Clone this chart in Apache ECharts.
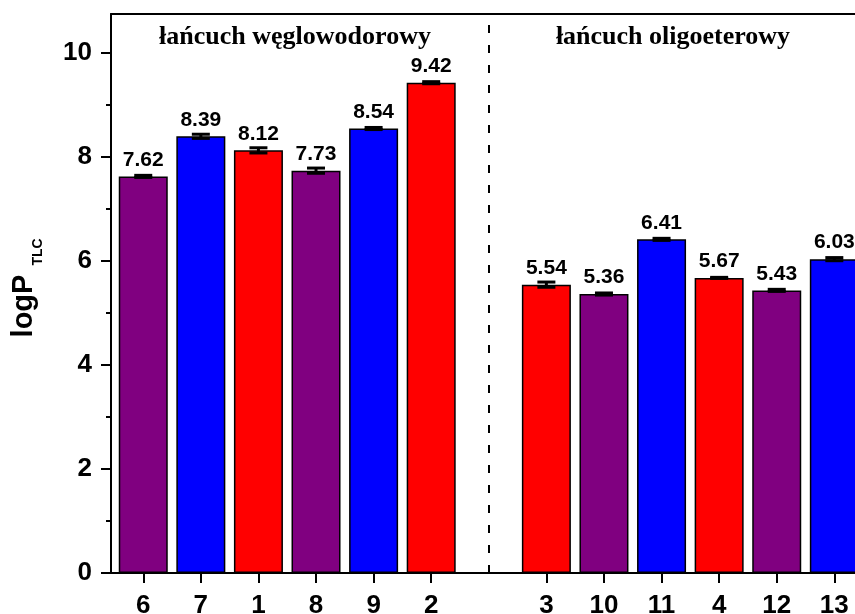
<!DOCTYPE html>
<html>
<head>
<meta charset="utf-8">
<script src="https://cdn.jsdelivr.net/npm/echarts@6/dist/echarts.min.js"></script>
<style>html,body{margin:0;padding:0;background:#fff}#c{width:855px;height:614px}</style>
</head>
<body>
<div id="c"></div>
<script>
// ---- data ----
const categories = ['6', '7', '1', '8', '9', '2', '', '3', '10', '11', '4', '12', '13'];
const logP =       [7.62, 8.39, 8.12, 7.73, 8.54, 9.42, null, 5.54, 5.36, 6.41, 5.67, 5.43, 6.03];
const logPErr =    [0.02, 0.04, 0.05, 0.05, 0.02, 0.02, null, 0.05, 0.02, 0.02, 0.01, 0.02, 0.03];
const colorGroup = ['P', 'B', 'R', 'P', 'B', 'R', '', 'R', 'P', 'B', 'R', 'P', 'B'];
const yTicks = [0, 2, 4, 6, 8, 10];
const yMinorTicks = [1, 3, 5, 7, 9];
const groupTitles = ['łańcuch węglowodorowy', 'łańcuch oligoeterowy'];
const dividerIndex = 6;

const palette = { P: '#800080', B: '#0000FF', R: '#FF0000' };
const xTickValues = categories.map((c, i) => i).filter(i => categories[i] !== '');

const barData = [];
const errData = [];
categories.forEach((c, i) => {
  if (logP[i] == null) return;
  barData.push({ value: [i, logP[i]], itemStyle: { color: palette[colorGroup[i]] } });
  errData.push([i, logP[i], logPErr[i]]);
});

const chart = echarts.init(document.getElementById('c'));
const axisFont = { fontFamily: 'Liberation Sans, Arial, sans-serif', fontWeight: 'bold', fontSize: 26, color: '#000' };

chart.setOption({
  animation: false,
  backgroundColor: '#fff',
  grid: { left: 111, right: -11, top: 14, bottom: 41, containLabel: false, outerBoundsMode: 'none' },
  xAxis: [{
    type: 'value', min: -0.56, max: 12.55, position: 'bottom',
    splitLine: { show: false },
    axisLine: { show: true, onZero: false, lineStyle: { color: '#000', width: 2 } },
    axisTick: { show: true, customValues: xTickValues, length: 10, lineStyle: { color: '#000', width: 2 } },
    axisLabel: Object.assign({ customValues: xTickValues, margin: 20,
      formatter: v => categories[Math.round(v)] }, axisFont)
  }, {
    type: 'value', min: -0.56, max: 12.55, position: 'top',
    splitLine: { show: false },
    axisLine: { show: true, onZero: false, lineStyle: { color: '#000', width: 2 } },
    axisTick: { show: false }, axisLabel: { show: false }
  }],
  yAxis: [{
    type: 'value', min: 0, max: 10.74, interval: 2, position: 'left',
    splitLine: { show: false },
    axisLine: { show: true, onZero: false, lineStyle: { color: '#000', width: 2 } },
    axisTick: { show: true, customValues: yTicks, length: 10, lineStyle: { color: '#000', width: 2 } },
    axisLabel: Object.assign({ customValues: yTicks, margin: 19 }, axisFont)
  }, {
    type: 'value', min: 0, max: 10.74, position: 'left',
    splitLine: { show: false },
    axisLine: { show: false, onZero: false },
    axisTick: { show: true, customValues: yMinorTicks, length: 5, lineStyle: { color: '#000', width: 2 } },
    axisLabel: { show: false }
  }],
  series: [{
    type: 'bar',
    xAxisIndex: 0, yAxisIndex: 0,
    barWidth: 49,
    data: barData,
    itemStyle: { borderColor: '#000', borderWidth: 1.5 },
    label: {
      show: true, position: 'top', distance: 6,
      formatter: p => p.value[1].toFixed(2),
      fontFamily: 'Liberation Sans, Arial, sans-serif', fontWeight: 'bold', fontSize: 21, color: '#000'
    },
    markLine: {
      silent: true, symbol: 'none', animation: false,
      label: { show: false },
      lineStyle: { color: '#000', width: 2, type: [8, 12] },
      data: [{ xAxis: dividerIndex }]
    }
  }, {
    type: 'custom',
    xAxisIndex: 0, yAxisIndex: 0,
    z: 5,
    data: errData,
    renderItem: (params, api) => {
      const x = api.value(0), y = api.value(1), e = api.value(2);
      const top = api.coord([x, y + e]);
      const bot = api.coord([x, y - e]);
      const hw = 9;
      const st = { stroke: '#000', lineWidth: 3 };
      return { type: 'group', children: [
        { type: 'line', shape: { x1: top[0], y1: top[1], x2: bot[0], y2: bot[1] }, style: st },
        { type: 'line', shape: { x1: top[0] - hw, y1: top[1], x2: top[0] + hw, y2: top[1] }, style: st },
        { type: 'line', shape: { x1: bot[0] - hw, y1: bot[1], x2: bot[0] + hw, y2: bot[1] }, style: st }
      ]};
    }
  }],
  graphic: [
    { type: 'text', x: 295, y: 37, style: { text: groupTitles[0], align: 'center', verticalAlign: 'middle',
      font: 'bold 26px "Liberation Serif", "Times New Roman", serif', fill: '#000' } },
    { type: 'text', x: 673, y: 37, style: { text: groupTitles[1], align: 'center', verticalAlign: 'middle',
      font: 'bold 26px "Liberation Serif", "Times New Roman", serif', fill: '#000' } },
    { type: 'text', x: 24, y: 306, rotation: Math.PI / 2, style: { text: 'logP', align: 'center', verticalAlign: 'middle',
      font: 'bold 29px "Liberation Sans", Arial, sans-serif', fill: '#000' } },
    { type: 'text', x: 38, y: 252, rotation: Math.PI / 2, style: { text: 'TLC', align: 'center', verticalAlign: 'middle',
      font: 'bold 14px "Liberation Sans", Arial, sans-serif', fill: '#000' } }
  ]
});
</script>
</body>
</html>
